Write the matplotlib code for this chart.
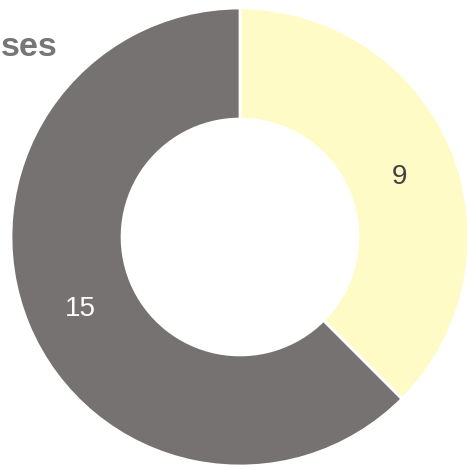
import numpy as np
import matplotlib
matplotlib.use("Agg")
from matplotlib import pyplot as plt

labels = ["9", "15"]
values = [9, 15]
colors = ["#FFFBC7", "#767271"]
label_colors = ["#404040", "#FFFFFF"]
title = "ses"

plt.rcParams['font.family'] = ['Liberation Sans', 'DejaVu Sans']

fig = plt.figure(figsize=[4.67, 4.69], dpi=100)
ax = fig.add_axes([11/467, 3/469, 458/467, 458/469])
wedges, texts = ax.pie(values, colors=colors, startangle=90, counterclock=False,
                       radius=1, labels=labels, labeldistance=0.755,
                       wedgeprops=dict(width=0.485, edgecolor='white', linewidth=2),
                       textprops=dict(fontsize=20, ha='center', va='center'))
for t, c in zip(texts, label_colors):
    t.set_color(c)
    x, y = t.get_position()
    t.set_position((x, y - 0.026))  # labels sit a bit low in the original
ax.set_xlim(-1, 1)
ax.set_ylim(-1, 1)
ax.set_aspect('equal')
ax.axis('off')

fig.text(1/467, 1 - 56/469, title, ha='left', va='baseline',
         fontsize=24.5, fontweight='bold', color='#767676')

fig.savefig("out.png")
